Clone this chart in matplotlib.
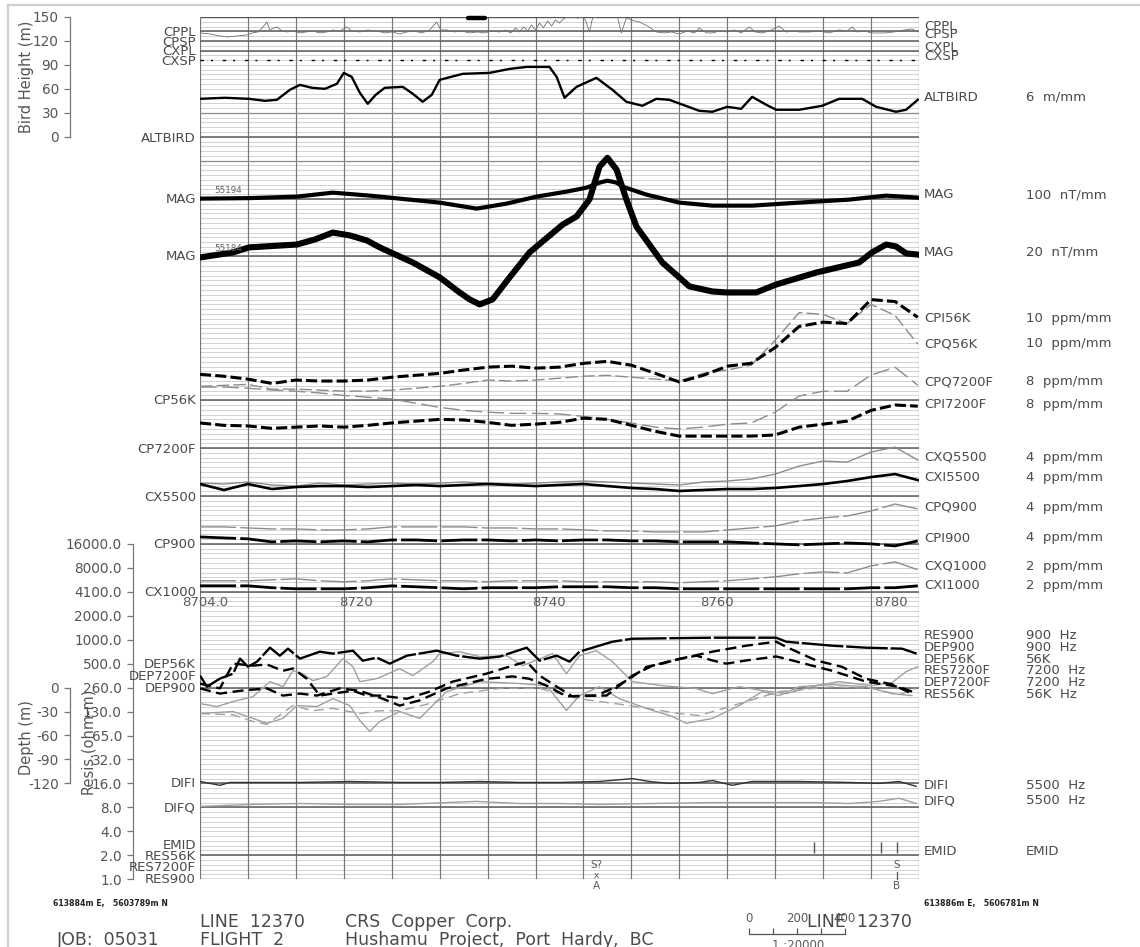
import numpy as np
import matplotlib
matplotlib.use("Agg")
import matplotlib.pyplot as plt
from matplotlib.lines import Line2D
from matplotlib.ticker import FixedLocator, NullLocator

plt.rcParams['font.family'] = ['DejaVu Sans']
plt.rcParams['lines.scale_dashes'] = False

# ---------------- DATA ----------------
# distance along line (m); plot scale 1:20000 -> 20 m per mm
station_m = [0, 100, 200, 300, 400, 500, 600, 700, 800, 900, 1000, 1100, 1200, 1300, 1400,
             1500, 1600, 1700, 1800, 1900, 2000, 2100, 2200, 2300, 2400, 2500, 2600, 2700,
             2800, 2900, 2995]

# EM channels (ppm) at the stations
cpi56k = [54, 50, 44, 35, 42, 40, 40, 42, 48, 52, 56, 63, 69, 71, 67, 69, 77, 81, 73, 56,
          38, 52, 71, 77, 110, 154, 163, 160, 210, 206, 173]
cpq56k = [29, 31, 33, 23, 23, 21, 19, 19, 21, 25, 29, 35, 42, 40, 42, 46, 50, 52, 48, 44,
          40, 56, 63, 73, 125, 183, 179, 160, 200, 177, 117]
cpq7200f = [102, 102, 100, 97, 95, 92, 88, 85, 82, 75, 68, 63, 60, 58, 58, 57, 53, 48, 42, 35,
            32, 35, 40, 42, 60, 87, 95, 95, 122, 135, 105]
cpi7200f = [42, 38, 37, 33, 35, 37, 35, 38, 42, 45, 48, 47, 43, 38, 40, 43, 50, 48, 38, 28,
            20, 20, 20, 20, 22, 35, 40, 45, 63, 72, 70]
cxi5500 = [10, 5, 10, 5.8, 7.5, 8.3, 8.3, 7.5, 8.3, 9.2, 8.3, 9.2, 10, 9.2, 8.3, 9.2, 10, 8.3,
           6.7, 5.8, 4.2, 5, 5.8, 5.8, 6.7, 8.3, 10, 12.5, 15.8, 18.3, 13.3]
cxq5500 = [10.8, 10, 11.7, 9.2, 8.3, 10.8, 9.2, 10, 10.8, 10, 10.8, 11.7, 10.8, 10, 10.8, 11.7,
           12.5, 11.7, 10.8, 10, 9.2, 11.7, 12.5, 14.2, 18.3, 25, 29.2, 28.3, 36.7, 40.8, 30]
cpi900 = [5.8, 5, 4.2, 1.7, 2.5, 1.7, 2.5, 1.7, 3.3, 3.3, 2.5, 3.3, 3.3, 2.5, 3.3, 2.5, 3.3, 3.3,
          2.5, 2.5, 1.7, 1.7, 1.7, 0.8, 0, -0.8, 0, 0.8, 0, -1.7, 2.5]
cpq900 = [14.2, 14.2, 13.3, 12.5, 12.5, 11.7, 11.7, 12.5, 14.2, 14.2, 14.2, 14.2, 13.3, 13.3,
          12.5, 12.5, 11.7, 10.8, 10.8, 10, 10, 10, 11.7, 13.3, 15, 19.2, 21.7, 23.3, 27.5, 33.3, 29.2]
cxi1000 = [2.5, 2.5, 2.5, 1.7, 1.25, 1.25, 1.25, 1.7, 2.5, 2.1, 1.7, 1.25, 1.7, 1.7, 1.7, 2.1,
           2.1, 2.1, 1.7, 1.7, 1.25, 1.25, 1.25, 1.25, 1.25, 1.25, 1.25, 1.25, 1.7, 1.7, 2.5]
cxq1000 = [4.6, 4.6, 4.6, 5, 5.4, 4.6, 4.2, 4.6, 5.4, 5, 4.6, 4.6, 4.2, 4.6, 4.6, 4.6, 4.2, 4.2,
           4.2, 4.2, 3.75, 4.2, 4.6, 5.4, 6.25, 7.5, 8.3, 7.9, 10.8, 12.5, 9.2]

# Bird height (m)
altbird_x = [0, 104, 204, 271, 321, 375, 417, 467, 521, 571, 600, 633, 667, 700, 733, 771, 846,
             888, 929, 967, 1000, 1096, 1208, 1292, 1363, 1458, 1488, 1521, 1571, 1654, 1721,
             1779, 1846, 1904, 1958, 2083, 2138, 2200, 2258, 2304, 2363, 2404, 2500, 2596, 2667,
             2763, 2821, 2904, 2946, 2995]
altbird_m = [47.5, 48.8, 47.5, 45, 46.3, 58.8, 65, 61.3, 60, 66.3, 80, 75, 55, 41.3, 52.5, 61.3,
             62.5, 53.8, 43.8, 52.5, 71.3, 78.8, 80, 85, 87.5, 87.5, 75, 48.8, 62.5, 73.8, 58.8,
             43.8, 38.8, 47.5, 46.3, 32.5, 31.3, 37.5, 35, 50, 40, 33.8, 33.8, 38.8, 47.5, 47.5,
             37.5, 31.3, 33.8, 46.3]

# Total field magnetics (nT)
mag_x = [0, 208, 404, 554, 708, 833, 1000, 1154, 1279, 1404, 1529, 1613, 1667, 1700, 1738, 1763,
         1863, 2000, 2138, 2304, 2500, 2708, 2863, 2995]
mag_nt = [55202, 55213, 55244, 55327, 55265, 55202, 55119, 54994, 55098, 55244, 55348, 55431,
          55536, 55577, 55536, 55452, 55286, 55119, 55056, 55056, 55119, 55181, 55265, 55223]
mag2_x = [0, 138, 204, 404, 479, 554, 625, 696, 750, 833, 888, 1000, 1083, 1125, 1167, 1221,
          1292, 1375, 1513, 1571, 1625, 1667, 1700, 1738, 1779, 1821, 1929, 2042, 2138, 2196,
          2321, 2404, 2571, 2750, 2804, 2863, 2904, 2946, 2995]
mag2_nt = [55180, 55201, 55222, 55234, 55255, 55284, 55272, 55251, 55222, 55184, 55159, 55097,
           55034, 55005, 54984, 55005, 55097, 55201, 55317, 55351, 55422, 55559, 55596, 55547,
           55422, 55309, 55159, 55059, 55038, 55034, 55034, 55067, 55117, 55159, 55201, 55234,
           55226, 55197, 55192]
mag_base = [55194, 55184]

# Apparent resistivity (ohm-m)
res900_x = [0, 29, 83, 138, 167, 200, 238, 292, 333, 367, 417, 500, 554, 638, 679, 738, 792,
            863, 988, 1071, 1167, 1250, 1363, 1417, 1488, 1542, 1583, 1638, 1721, 1804, 2138,
            2404, 2446, 2638, 2779, 2929, 2990]
res900 = [362, 263, 332, 383, 592, 469, 542, 813, 645, 790, 592, 724, 684, 745, 558, 609, 512,
          645, 745, 645, 592, 627, 813, 558, 645, 542, 724, 813, 966, 1053, 1085, 1085, 966,
          861, 813, 790, 684]
res7200f_x = [0, 71, 138, 221, 292, 346, 388, 429, 471, 529, 596, 638, 667, 738, 833, 888, 971,
              1000, 1083, 1167, 1279, 1346, 1471, 1529, 1583, 1654, 1721, 1804, 1929, 2071, 2138,
              2250, 2346, 2446, 2571, 2667, 2804, 2888, 2946, 2995]
res7200f = [161, 148, 171, 197, 304, 263, 418, 383, 313, 352, 592, 469, 304, 332, 443, 362, 542,
            684, 724, 627, 645, 483, 684, 383, 645, 745, 542, 304, 271, 249, 215, 263, 235, 215,
            271, 304, 271, 296, 406, 469]
res56k_x = [0, 138, 221, 279, 346, 404, 488, 554, 625, 667, 708, 750, 833, 917, 958, 1029, 1167,
            1333, 1446, 1529, 1583, 1667, 1750, 1863, 1971, 2029, 2138, 2250, 2346, 2417, 2500,
            2638, 2779, 2888, 2971]
res56k = [121, 128, 105, 91, 105, 152, 148, 186, 152, 99, 72, 96, 128, 105, 140, 228, 304, 288,
          271, 132, 203, 263, 186, 140, 111, 91, 105, 152, 228, 203, 263, 279, 263, 215, 203]

# Conductor depth (m)
dep900_x = [0, 83, 138, 221, 279, 346, 388, 446, 500, 554, 638, 696, 750, 863, 958, 1054, 1196,
            1304, 1363, 1417, 1500, 1554, 1654, 1721, 1792, 1863, 1929, 2000, 2138, 2279, 2404,
            2446, 2571, 2679, 2779, 2888, 2971]
dep900 = [5, -1, 30, 27.5, 29, 21, 24, 11, -10, -7.5, -4, -10, -10, -14, -5, 7.5, 17.5, 27.5,
          32.5, 15, -1, -11, -10, -1, 11, 26, 30, 36, 45, 52.5, 57.5, 51, 34, 26, 11, 4, -7.5]
dep56k_x = [0, 83, 167, 279, 346, 417, 488, 583, 667, 763, 833, 917, 1029, 1196, 1304, 1375,
            1446, 1529, 1613, 1696, 1804, 1888, 1971, 2071, 2138, 2196, 2279, 2404, 2446, 2638,
            2779, 2917, 2971]
dep56k = [-1, -7.5, -4, -1, -10, -7.5, -10, -1, -4, -14, -22.5, -16, -1, 11, 14, 11, 2.5, -11,
          -10, -10, 15, 27.5, 34, 40, 34, 30, 34, 39, 36, 21, 7.5, 1, -5]
dep7200f_x = [0, 138, 221, 279, 388, 471, 554, 667, 750, 833, 958, 1083, 1250, 1417, 1583, 1792,
              2000, 2083, 2208, 2417, 2638, 2804, 2917, 2988]
dep7200f = [-32.5, -34, -42.5, -46, -22.5, -29, -26, -32.5, -29, -29, -20, -7.5, -1, -1, -14,
            -22.5, -32.5, -35, -24, -5, 1, -1, -9, -1]

# Difference channels (units per mm)
difi_x = [0, 83, 125, 250, 417, 625, 833, 1000, 1167, 1333, 1500, 1667, 1804, 1875, 1958, 2083,
          2138, 2221, 2304, 2500, 2708, 2833, 2917, 2988]
difi = [0.4, -0.4, 0.2, 0.2, 0.2, 0.4, 0.2, 0.2, 0.4, 0.2, 0.2, 0.4, 1.0, 0.4, 0.0, 0.2, 0.6,
        -0.4, 0.4, 0.4, 0.2, 0.0, 0.4, -0.6]
difq_x = [0, 208, 417, 625, 833, 1154, 1333, 1500, 1667, 1875, 2138, 2321, 2571, 2708, 2833,
          2917, 2988]
difq = [0.2, 0.6, 0.8, 0.6, 0.6, 1.25, 0.8, 0.8, 0.6, 0.8, 1.0, 1.0, 1.0, 0.8, 1.25, 1.9, 0.8]

# Power-line monitor (units per mm)
cppl_x = [0, 42, 83, 113, 154, 196, 217, 242, 263, 279, 292, 308, 321, 342, 363, 388, 417, 442,
          471, 500, 529, 554, 583, 613, 633, 667, 700, 738, 771, 800, 833, 863, 896, 925, 958,
          988, 1004, 1029, 1063, 1092, 1125, 1158, 1188, 1217, 1250, 1275, 1296, 1317, 1333,
          1350, 1367, 1383, 1400, 1417, 1433, 1450, 1467, 1483, 1500, 1521, 1542, 1575, 1596,
          1608, 1625, 1638, 1667, 1708, 1742, 1758, 1779, 1800, 1833, 1867, 1904, 1938, 1967,
          2000, 2033, 2063, 2083, 2113, 2138, 2167, 2200, 2229, 2258, 2292, 2317, 2346, 2375,
          2417, 2446, 2479, 2500, 2542, 2583, 2625, 2667, 2700, 2721, 2742, 2771, 2804, 2854,
          2896, 2938, 2971, 2995]
cppl = [-0.33, -0.54, -0.96, -1.17, -0.96, -0.75, -0.33, -0.12, 0.92, 1.96, 0.29, 0.71, 0.92,
        0.08, -0.12, 0.08, -0.33, -0.12, 0.08, -0.33, -0.12, 0.29, 0.08, 0.92, 0.08, -0.12, 0.29,
        0.08, -0.33, -0.12, -0.54, -0.12, 0.08, -0.33, 0.29, 1.96, 0.29, 0.29, -0.12, 0.08,
        -0.33, -0.12, -0.33, 0.08, -0.12, 0.29, -0.33, 0.71, -0.12, 0.92, 0.08, 1.33, 0.29, 1.75,
        0.71, 2.17, 1.12, 2.38, 1.75, 2.79, 3.0, 2.79, 3.0, 2.38, -0.12, 2.79, 3.2, 3.2, 3.0,
        -0.33, 2.79, 2.38, 1.96, 1.12, -0.12, -0.33, -0.12, -0.54, 0.08, -0.33, 0.71, -0.33,
        -0.33, 0.08, -0.12, 0.29, -0.33, 0.92, -0.12, -0.33, 0.08, 1.12, -0.12, 0.08, -0.12,
        -0.12, 0.08, -0.33, 0.29, 0.08, 0.92, -0.12, 0.08, -0.33, -0.33, -0.12, 0.29, 0.5, -0.12]

# Fiducials, EM picks, anomaly markers
fid_labels = ["8704.0", "8720", "8740", "8760", "8780"]
fid_m = [21, 651, 1456, 2157, 2883]
emid_m = [2563, 2842, 2908]
anomaly_labels = ["A", "B"]
anomaly_m = [1654, 2908]
anomaly_type = ["S?", "S"]

bird_ticks = [0, 30, 60, 90, 120, 150]
depth_ticks = [0, -30, -60, -90, -120]
res_tick_labels = ["16000.0", "8000.0", "4100.0", "2000.0", "1000.0", "500.0", "260.0",
                   "130.0", "65.0", "32.0", "16.0", "8.0", "4.0", "2.0", "1.0"]

# ---------------- LAYOUT ----------------
W, H = 1140, 947
PXMM = 4.79          # pixels per chart mm
TOP = 17
LEFT, RIGHT = 200, 919
TXT = '#4a4a4a'
GRAY = '#8c8c8c'
LFS = 9.5            # channel label font size

fig = plt.figure(figsize=(W / 100, H / 100), dpi=100)


def ypx(mm):
    return TOP + PXMM * mm


ax = fig.add_axes([LEFT / W, 1 - ypx(180) / H, (RIGHT - LEFT) / W, 180 * PXMM / H])
ax.set_xlim(0, 3000)
ax.set_ylim(180, 0)
ax.axis('off')

# chart paper
ax.hlines(np.arange(0, 181), 0, 3000, colors='#c6c6c6', lw=0.55, zorder=0)
ax.vlines(np.arange(0, 3001, 200), 0, 180, colors='#767676', lw=0.85, zorder=1)
ax.hlines([0, 180], 0, 3000, colors='#555555', lw=1.0, zorder=1)
ax.hlines([20, 30], 0, 3000, colors='#8a8a8a', lw=0.9, zorder=1)
baselines = [3, 5, 7, 25, 38, 50, 80, 90, 100, 110, 120, 140, 160, 165, 175]
ax.hlines(baselines, 0, 3000, colors='#5c5c5c', lw=1.1, zorder=1)


def lin_mm(v, base_mm, v0, per_mm):
    return base_mm - (np.asarray(v, float) - v0) / per_mm


def res_mm(r):
    return 180 - 5 * np.log2(np.asarray(r, float))


def dep_mm(d):
    return 140 - np.asarray(d, float) / 6


def trace(x, y, color='k', lw=1.0, dashes=None, z=3):
    ln, = ax.plot(x, y, color=color, lw=lw, zorder=z, solid_joinstyle='round')
    if dashes:
        ln.set_dashes(dashes)
    return ln


# top monitor channels
trace(cppl_x, lin_mm(cppl, 3, 0, 1), color='#707070', lw=0.6)
ax.hlines(9, 0, 3000, colors='k', lw=1.0, linestyles=(0, (2.5, 5, 1.5, 7)), zorder=3)
ax.plot([1117, 1188], [0.15, 0.15], color='k', lw=3.2, solid_capstyle='round',
        clip_on=False, zorder=4)

# altimeter and magnetics
trace(altbird_x, lin_mm(altbird_m, 25, 0, 6), lw=1.7)
trace(mag_x, lin_mm(mag_nt, 38, mag_base[0], 100), lw=3.0)
trace(mag2_x, lin_mm(mag2_nt, 50, mag_base[1], 20), lw=4.4)

# EM coplanar / coaxial
trace(station_m, lin_mm(cpq56k, 80, 0, 10), color=GRAY, lw=1.0, dashes=(9, 3))
trace(station_m, lin_mm(cpi56k, 80, 0, 10), lw=2.2, dashes=(8, 3))
trace(station_m, lin_mm(cpq7200f, 90, 0, 8), color=GRAY, lw=1.0, dashes=(12, 4))
trace(station_m, lin_mm(cpi7200f, 90, 0, 8), lw=2.2, dashes=(8, 3))
trace(station_m, lin_mm(cxq5500, 100, 0, 4), color=GRAY, lw=1.0)
trace(station_m, lin_mm(cxi5500, 100, 0, 4), lw=1.9)
trace(station_m, lin_mm(cpq900, 110, 0, 4), color=GRAY, lw=1.0, dashes=(26, 3))
trace(station_m, lin_mm(cpi900, 110, 0, 4), lw=2.0, dashes=(26, 3))
trace(station_m, lin_mm(cxq1000, 120, 0, 2), color=GRAY, lw=1.0, dashes=(26, 3))
trace(station_m, lin_mm(cxi1000, 120, 0, 2), lw=2.0, dashes=(26, 3))

# resistivity / depth
trace(res7200f_x, res_mm(res7200f), color='#a0a0a0', lw=1.0)
trace(res56k_x, res_mm(res56k), color='#a0a0a0', lw=1.0)
trace(dep7200f_x, dep_mm(dep7200f), color='#a0a0a0', lw=1.0, dashes=(7, 4))
trace(res900_x, res_mm(res900), lw=1.7, dashes=(30, 2))
trace(dep900_x, dep_mm(dep900), lw=1.7, dashes=(8, 4))
trace(dep56k_x, dep_mm(dep56k), lw=1.7, dashes=(8, 4))

# difference channels
trace(difq_x, lin_mm(difq, 165, 0, 1), color='#a0a0a0', lw=1.0)
trace(difi_x, lin_mm(difi, 160, 0, 1), color='#333333', lw=1.0)

# EM picks
ax.vlines(emid_m, 172.2, 174.5, colors='#555555', lw=1.0, zorder=3)

# fiducials
for lab, xm in zip(fid_labels, fid_m):
    ax.text(xm, 122.3, lab, ha='center', va='center', fontsize=9.5, color='#5a5a5a',
            clip_on=False, zorder=5)

# anomaly markers
for lab, xm, typ in zip(anomaly_labels, anomaly_m, anomaly_type):
    ax.text(xm, 177.0, typ, ha='center', va='center', fontsize=7.5, color='#5a5a5a',
            clip_on=False)
    ax.text(xm, 181.5, lab, ha='center', va='center', fontsize=7.5, color='#5a5a5a',
            clip_on=False)
ax.text(anomaly_m[0], 179.2, 'x', ha='center', va='center', fontsize=6.5, color='#5a5a5a',
        clip_on=False)
ax.plot([anomaly_m[1], anomaly_m[1]], [178.6, 180], color='#5a5a5a', lw=0.9, clip_on=False)

# MAG base values
ax.text(60, 37.2, str(mag_base[0]), fontsize=6.3, color='#666666', ha='left', va='bottom')
ax.text(60, 49.2, str(mag_base[1]), fontsize=6.3, color='#666666', ha='left', va='bottom')

# scale bar (1:20000)
sb0 = 2291
ax.plot([sb0, sb0 + 400], [191.4, 191.4], color='#555555', lw=0.9, clip_on=False)
ax.vlines([sb0 + k * 100 for k in range(5)], 190.1, 191.4, colors='#555555', lw=0.9,
          clip_on=False)
for k, lab in zip([0, 200, 400], ["0", "200", "400"]):
    ax.text(sb0 + k, 188.2, lab, ha='center', va='center', fontsize=8.5, color='#5a5a5a',
            clip_on=False)
ax.text(sb0 + 205, 193.9, "1 :20000", ha='center', va='center', fontsize=8.5, color='#5a5a5a',
        clip_on=False)


# ---------------- side axes ----------------
def side_axis(px_x, mm_top, mm_bot):
    a = fig.add_axes([px_x / W, 1 - ypx(mm_bot) / H, 0.0005, (mm_bot - mm_top) * PXMM / H])
    a.patch.set_visible(False)
    for s in ['top', 'right', 'bottom']:
        a.spines[s].set_visible(False)
    a.spines['left'].set_color('#777777')
    a.spines['left'].set_linewidth(0.9)
    a.set_xticks([])
    a.tick_params(axis='y', direction='out', length=4, width=0.9, colors='#777777',
                  labelsize=9.8, labelcolor='#555555', pad=4)
    return a


abh = side_axis(70, 0, 25)
abh.set_ylim(0, 150)
abh.set_yticks(bird_ticks)
abh.set_yticklabels([str(t) for t in bird_ticks])

adep = side_axis(70, 140, 160)
adep.set_ylim(-120, 0)
adep.set_yticks(depth_ticks)
adep.set_yticklabels([str(t) for t in depth_ticks])

ares = side_axis(133, 110, 180)
ares.set_yscale('log', base=2)
ares.set_ylim(1, 2 ** 14)
ares.yaxis.set_major_locator(FixedLocator([2.0 ** k for k in range(14, -1, -1)]))
ares.yaxis.set_minor_locator(NullLocator())
ares.set_yticklabels(res_tick_labels)


def ftext(px, py, s, **kw):
    kw.setdefault('color', TXT)
    kw.setdefault('va', 'center')
    fig.text(px / W, 1 - py / H, s, **kw)


ftext(27, 77, "Bird Height (m)", rotation=90, ha='center', fontsize=10.5, color='#555555')
ftext(27, 738, "Depth (m)", rotation=90, ha='center', fontsize=10.5, color='#555555')
ftext(88, 741, "Resis.(ohm-m)", rotation=90, ha='center', fontsize=10.5, color='#555555')

# left channel labels
left_labels = [("CPPL", 33), ("CPSP", 42), ("CXPL", 51.5), ("CXSP", 61.5), ("ALTBIRD", 138),
               ("MAG", 199.5), ("MAG", 257), ("CP56K", 401), ("CP7200F", 449),
               ("CX5500", 497), ("CP900", 545), ("CX1000", 592), ("DEP56K", 664),
               ("DEP7200F", 677), ("DEP900", 688), ("DIFI", 783), ("DIFQ", 808),
               ("EMID", 845), ("RES56K", 856), ("RES7200F", 867), ("RES900", 879)]
for s, py in left_labels:
    ftext(196, py, s, ha='right', fontsize=LFS)

# right channel labels + scales
right_labels = [("CPPL", 27, ""), ("CPSP", 35, ""), ("CXPL", 47, ""), ("CXSP", 57, ""),
                ("ALTBIRD", 97, "6  m/mm"), ("MAG", 195, "100  nT/mm"), ("MAG", 252, "20  nT/mm"),
                ("CPI56K", 318, "10  ppm/mm"), ("CPQ56K", 344, "10  ppm/mm"),
                ("CPQ7200F", 382, "8  ppm/mm"), ("CPI7200F", 404, "8  ppm/mm"),
                ("CXQ5500", 457, "4  ppm/mm"), ("CXI5500", 477, "4  ppm/mm"),
                ("CPQ900", 507, "4  ppm/mm"), ("CPI900", 538, "4  ppm/mm"),
                ("CXQ1000", 566, "2  ppm/mm"), ("CXI1000", 585, "2  ppm/mm"),
                ("RES900", 635, "900  Hz"), ("DEP900", 647, "900  Hz"), ("DEP56K", 659, "56K"),
                ("RES7200F", 671, "7200  Hz"), ("DEP7200F", 683, "7200  Hz"),
                ("RES56K", 695, "56K  Hz"), ("DIFI", 785, "5500  Hz"), ("DIFQ", 801, "5500  Hz"),
                ("EMID", 851, "EMID")]
for s, py, u in right_labels:
    ftext(924, py, s, ha='left', fontsize=LFS)
    if u:
        ftext(1026, py, u, ha='left', fontsize=LFS)

# coordinates
ftext(53, 903, "613884m E,   5603789m N", ha='left', fontsize=5.6, color='#222222',
      fontweight='bold')
ftext(924, 903, "613886m E,   5606781m N", ha='left', fontsize=5.6, color='#222222',
      fontweight='bold')

# title block
ftext(200, 922, "LINE  12370", ha='left', fontsize=12.5)
ftext(200, 940, "FLIGHT  2", ha='left', fontsize=12.5)
ftext(57, 940, "JOB:  05031", ha='left', fontsize=12.5)
ftext(345, 922, "CRS  Copper  Corp.", ha='left', fontsize=12.5)
ftext(345, 940, "Hushamu  Project,  Port  Hardy,  BC", ha='left', fontsize=12.5)
ftext(807, 922, "LINE  12370", ha='left', fontsize=12.5)

# page frame
fig.add_artist(Line2D([8 / W, 8 / W], [1 - 5 / H, 0], color='#d0d0d0', lw=1.6))
fig.add_artist(Line2D([8 / W, 1], [1 - 5 / H, 1 - 5 / H], color='#d0d0d0', lw=1.6))

fig.savefig("out.png", dpi=100)
